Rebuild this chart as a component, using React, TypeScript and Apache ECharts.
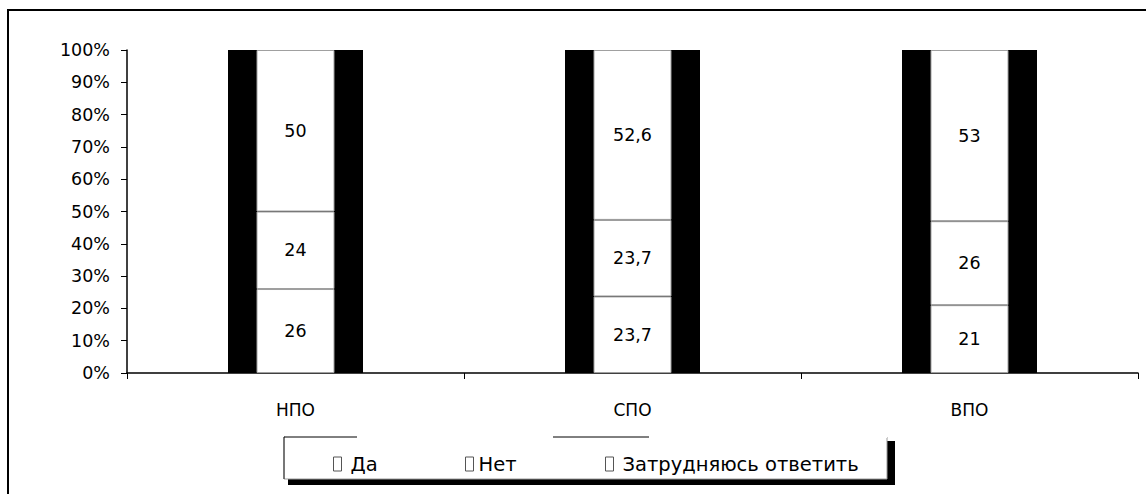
import React, { useEffect, useRef } from "react";
import * as echarts from "echarts";

const categories = ["НПО", "СПО", "ВПО"];
const seriesNames = ["Да", "Нет", "Затрудняюсь ответить"];
const yesValues = [26, 23.7, 21];
const noValues = [24, 23.7, 26];
const unsureValues = [50, 52.6, 53];
const yTickLabels = ["0%", "10%", "20%", "30%", "40%", "50%", "60%", "70%", "80%", "90%", "100%"];

const FONT = "DejaVu Sans";

export default function App() {
  const ref = useRef<HTMLDivElement>(null);
  useEffect(() => {
    document.body.style.margin = "0";
    if (!ref.current) return;
    const chart = echarts.init(ref.current, null, { renderer: "svg" });
    const totals = categories.map((_, i) => yesValues[i] + noValues[i] + unsureValues[i]);
    const fmt = (p: any) => String(p.value).replace(".", ",");
    const whiteSeries = [yesValues, noValues, unsureValues].map((vals, k) => ({
      name: seriesNames[k],
      type: "bar",
      stack: "w",
      xAxisIndex: 1,
      barWidth: 78,
      z: 5,
      data: vals,
      itemStyle: { color: "#ffffff", borderColor: "#a0a0a0", borderWidth: 1 },
      label: {
        show: true,
        position: "inside",
        color: "#000",
        fontFamily: FONT,
        fontSize: 17.5,
        formatter: fmt,
      },
    }));
    const legendItem = (name: string, left: number, pad: number) => ({
      data: [name],
      left,
      top: 449,
      icon: "rect",
      itemWidth: 8,
      itemHeight: 14,
      selectedMode: false,
      formatter: "{a|{name}}",
      textStyle: {
        fontFamily: FONT,
        fontSize: 19.5,
        color: "#000",
        rich: { a: { fontFamily: FONT, fontSize: 19.5, color: "#000", padding: [0, 0, 0, pad] } },
      },
      itemStyle: { color: "#ffffff", borderColor: "#555", borderWidth: 1 },
    });
    chart.setOption({
      animation: false,
      backgroundColor: "#ffffff",
      grid: { left: 127, right: 8, top: 50, bottom: 121 },
      legend: [
        legendItem(seriesNames[0], 328, 4),
        legendItem(seriesNames[1], 460, 0),
        legendItem(seriesNames[2], 600, 4),
      ],
      xAxis: [
        {
          type: "category",
          data: categories,
          axisLine: { show: true, lineStyle: { color: "#000", width: 1.5 } },
          axisTick: { show: true, length: 6, lineStyle: { color: "#000" } },
          axisLabel: { color: "#000", fontFamily: FONT, fontSize: 17, margin: 28 },
        },
        { type: "category", data: categories, show: false },
      ],
      yAxis: {
        type: "value",
        min: 0,
        max: 100,
        interval: 10,
        axisLine: { show: true, lineStyle: { color: "#000", width: 1.5 } },
        axisTick: { show: true, length: 6, lineStyle: { color: "#000" } },
        splitLine: { show: false },
        axisLabel: {
          color: "#000",
          fontFamily: FONT,
          fontSize: 17.5,
          margin: 17,
          formatter: (v: number) => yTickLabels[Math.round(v / 10)],
        },
      },
      series: [
        {
          name: "bg",
          type: "bar",
          xAxisIndex: 0,
          barWidth: 135,
          z: 2,
          silent: true,
          data: totals,
          itemStyle: { color: "#000000" },
        },
        ...whiteSeries,
      ],
      graphic: [
        {
          type: "rect",
          z: -10,
          shape: { x: 8, y: 10, width: 1150, height: 500 },
          style: { fill: "none", stroke: "#000", lineWidth: 2 },
        },
        {
          type: "rect",
          z: -5,
          shape: { x: 288, y: 441, width: 607, height: 44 },
          style: { fill: "#000" },
        },
        {
          type: "rect",
          z: -4,
          shape: { x: 284, y: 437, width: 603, height: 42 },
          style: { fill: "#fff", stroke: "#999", lineWidth: 1 },
        },
        {
          type: "line",
          z: -3,
          shape: { x1: 285, y1: 437, x2: 887, y2: 437 },
          style: { stroke: "#fff", lineWidth: 2 },
        },
        {
          type: "line",
          z: -2,
          shape: { x1: 284, y1: 437, x2: 357, y2: 437 },
          style: { stroke: "#000", lineWidth: 1 },
        },
        {
          type: "line",
          z: -2,
          shape: { x1: 553, y1: 437, x2: 649, y2: 437 },
          style: { stroke: "#000", lineWidth: 1 },
        },
        {
          type: "line",
          z: -2,
          shape: { x1: 284, y1: 437, x2: 284, y2: 479 },
          style: { stroke: "#222", lineWidth: 1 },
        },
      ],
    });
    return () => chart.dispose();
  }, []);
  return <div ref={ref} style={{ width: 1146, height: 494 }} />;
}
